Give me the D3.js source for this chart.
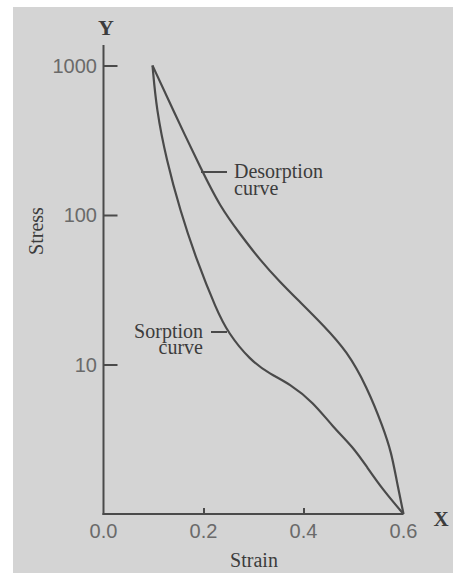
<!DOCTYPE html>
<html>
<head>
<meta charset="utf-8">
<script src="https://cdn.jsdelivr.net/npm/d3@7"></script>
<style>
  body { margin: 0; background: #fff; }
  .tick-label { font-family: "Liberation Sans", Arial, sans-serif; font-size: 20px; fill: #6a6a6a; }
  .serif { font-family: "Liberation Serif", "Times New Roman", serif; fill: #3c3c3c; }
</style>
</head>
<body>
<div id="chart"></div>
<script>
// strain / stress readings for the two curves
var desorptionX = [0.098, 0.139, 0.196, 0.233, 0.273, 0.313, 0.353, 0.393, 0.439, 0.487, 0.527, 0.559, 0.576, 0.586, 0.6]
var desorptionY = [1000, 504, 200, 114, 74.6, 50, 35.6, 26.2, 18.4, 12.3, 7.07, 3.82, 2.56, 1.69, 1]
var sorptionX = [0.098, 0.106, 0.126, 0.153, 0.186, 0.226, 0.249, 0.293, 0.333, 0.373, 0.419, 0.459, 0.499, 0.527, 0.559, 0.6]
var sorptionY = [1000, 504, 233, 108, 50, 23.2, 16.3, 10.7, 8.63, 7.41, 5.61, 3.82, 2.81, 2.06, 1.45, 1]
var xTicks = [0.0, 0.2, 0.4, 0.6]
var yTicks = [10, 100, 1000]

var W = 453, H = 573
var svg = d3.select("#chart").append("svg").attr("width", W).attr("height", H)

// scanned page background
svg.append("rect").attr("x", 13).attr("y", 7).attr("width", W - 13).attr("height", H - 7).attr("fill", "#d4d4d4")

var x = d3.scaleLinear().domain([0, 0.6]).range([103.5, 403.5])
var y = d3.scaleLog().domain([1, 1000]).range([514, 65.5])

var ink = "#4a4a4a"

// y axis
var gy = svg.append("g").attr("transform", "translate(" + x(0) + ",0)")
gy.call(d3.axisRight(y).tickValues(yTicks).tickSize(14).tickFormat(""))
gy.select(".domain").remove()
gy.selectAll(".tick line").attr("stroke", ink).attr("stroke-width", 2)
svg.append("line").attr("x1", x(0)).attr("x2", x(0)).attr("y1", 45).attr("y2", y(1) + 1)
  .attr("stroke", ink).attr("stroke-width", 2)
svg.selectAll(".ylab").data(yTicks).enter().append("text")
  .attr("class", "tick-label").attr("x", 97).attr("y", function(d) { return y(d) + 7 })
  .attr("text-anchor", "end").text(function(d) { return d })

// x axis
var gx = svg.append("g").attr("transform", "translate(0," + y(1) + ")")
gx.call(d3.axisTop(x).tickValues(xTicks.slice(1, 3)).tickSize(6).tickFormat(""))
gx.select(".domain").remove()
gx.selectAll(".tick line").attr("stroke", ink).attr("stroke-width", 2)
svg.append("line").attr("x1", x(0) - 1).attr("x2", x(0.6)).attr("y1", y(1)).attr("y2", y(1))
  .attr("stroke", ink).attr("stroke-width", 2)
svg.selectAll(".xlab").data(xTicks).enter().append("text")
  .attr("class", "tick-label").attr("x", function(d) { return x(d) }).attr("y", 538)
  .attr("text-anchor", "middle").text(function(d) { return d.toFixed(1) })

// axis names
svg.append("text").attr("class", "serif").attr("x", 106).attr("y", 35).attr("text-anchor", "middle")
  .style("font-size", "22px").style("font-weight", "bold").text("Y")
svg.append("text").attr("class", "serif").attr("x", 441).attr("y", 526).attr("text-anchor", "middle")
  .style("font-size", "21px").style("font-weight", "bold").text("X")
svg.append("text").attr("class", "serif").attr("transform", "translate(43,231) rotate(-90)")
  .attr("text-anchor", "middle").style("font-size", "20px").text("Stress")
svg.append("text").attr("class", "serif").attr("x", 254).attr("y", 567)
  .attr("text-anchor", "middle").style("font-size", "20px").text("Strain")

// curves
var line = d3.line().x(function(d) { return x(d[0]) }).y(function(d) { return y(d[1]) })
  .curve(d3.curveBasis)
var series = [
  d3.zip(desorptionX, desorptionY),
  d3.zip(sorptionX, sorptionY)
]
svg.selectAll(".curve").data(series).enter().append("path")
  .attr("class", "curve").attr("d", line)
  .attr("fill", "none").attr("stroke", ink).attr("stroke-width", 2.2)

// annotations
svg.append("line").attr("x1", 201).attr("x2", 227).attr("y1", 172).attr("y2", 172).attr("stroke", ink).attr("stroke-width", 2)
svg.append("text").attr("class", "serif").attr("x", 234).attr("y", 178).style("font-size", "20px").text("Desorption")
svg.append("text").attr("class", "serif").attr("x", 234).attr("y", 195).style("font-size", "20px").text("curve")

svg.append("line").attr("x1", 211).attr("x2", 227).attr("y1", 332).attr("y2", 332).attr("stroke", ink).attr("stroke-width", 2)
svg.append("text").attr("class", "serif").attr("x", 203).attr("y", 338).attr("text-anchor", "end").style("font-size", "20px").text("Sorption")
svg.append("text").attr("class", "serif").attr("x", 203).attr("y", 354).attr("text-anchor", "end").style("font-size", "20px").text("curve")
</script>
</body>
</html>
